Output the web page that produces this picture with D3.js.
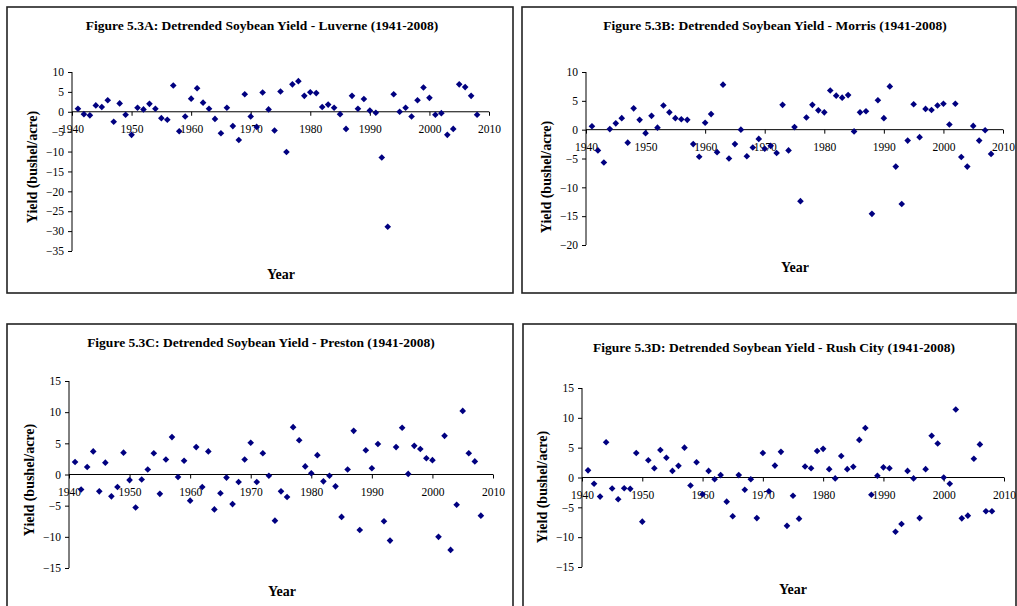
<!DOCTYPE html>
<html>
<head>
<meta charset="utf-8">
<script src="https://cdn.jsdelivr.net/npm/d3@7"></script>
<style>
  body { margin: 0; background: #fff; }
  svg { display: block; font-family: "Liberation Serif", "Times New Roman", serif; }
  .tick text { fill: #000; }
</style>
</head>
<body>
<svg width="1017" height="606"></svg>
<script>
var years = [1941,1942,1943,1944,1945,1946,1947,1948,1949,1950,
  1951,1952,1953,1954,1955,1956,1957,1958,1959,1960,
  1961,1962,1963,1964,1965,1966,1967,1968,1969,1970,
  1971,1972,1973,1974,1975,1976,1977,1978,1979,1980,
  1981,1982,1983,1984,1985,1986,1987,1988,1989,1990,
  1991,1992,1993,1994,1995,1996,1997,1998,1999,2000,
  2001,2002,2003,2004,2005,2006,2007,2008];

var luverne = [0.75,-0.6,-0.9,1.6,1.2,2.9,-2.5,2.1,-0.75,-5.8,
  1.0,0.6,2.0,0.75,-1.6,-2.0,6.6,-4.9,-1.2,3.3,
  5.9,2.3,0.75,-1.8,-5.4,1.0,-3.6,-7.1,4.4,-1.2,
  -3.8,4.85,0.6,-4.7,5.1,-10.1,6.9,7.7,4.0,4.9,
  4.7,1.2,1.8,1.0,-0.6,-4.3,4.0,0.75,3.2,0.3,
  -0.25,-11.5,-28.9,4.4,0.0,1.0,-1.2,2.9,6.1,3.5,
  -0.75,-0.35,-5.8,-4.3,6.9,6.2,4.0,-0.75];

var morris = [0.6,-3.6,-5.7,0.1,1.1,2.0,-2.25,3.7,1.7,-0.6,
  2.4,0.35,4.2,3.0,2.0,1.8,1.7,-2.5,-4.7,1.2,
  2.7,-3.9,7.8,-5.0,-2.5,0.0,-4.6,-3.1,-1.6,-3.3,
  -2.8,-4.05,4.3,-3.6,0.45,-12.4,2.1,4.3,3.35,3.0,
  6.8,5.9,5.55,6.0,-0.3,3.0,3.2,-14.6,5.1,2.0,
  7.5,-6.4,-12.9,-1.9,4.4,-1.3,3.6,3.4,4.2,4.5,
  0.9,4.5,-4.75,-6.4,0.65,-1.9,-0.1,-4.2];

var preston = [2.0,-2.4,1.2,3.7,-2.7,1.9,-3.5,-2.0,3.5,-0.9,
  -5.3,-0.8,0.8,3.4,-3.1,2.4,6.0,-0.4,2.2,-4.2,
  4.4,-2.0,3.7,-5.6,-3.0,-0.5,-4.75,-1.2,2.4,5.1,
  -1.2,3.4,-0.2,-7.4,-2.7,-3.6,7.6,5.5,1.3,0.2,
  3.1,-1.1,-0.2,-1.9,-6.8,0.8,7.0,-8.9,3.9,1.0,
  4.9,-7.5,-10.6,4.4,7.5,0.1,4.6,4.1,2.6,2.3,
  -10.0,6.2,-12.1,-4.85,10.2,3.4,2.1,-6.6];

var rushCity = [1.2,-1.05,-3.2,5.9,-1.85,-3.65,-1.8,-1.9,4.1,-7.4,
  2.9,1.55,4.6,3.3,1.1,1.95,5.0,-1.35,2.55,-2.8,
  1.1,-0.3,0.4,-4.05,-6.5,0.4,-2.05,-0.3,-6.8,4.1,
  -2.3,2.0,4.3,-8.1,-3.05,-6.9,1.85,1.55,4.45,4.8,
  1.4,-0.15,3.6,1.4,1.8,6.3,8.3,-2.9,0.3,1.7,
  1.55,-9.1,-7.8,1.1,-0.15,-6.8,1.4,7.0,5.7,0.0,
  -1.05,11.4,-6.85,-6.4,3.15,5.55,-5.65,-5.65];

var titles = [
  "Figure 5.3A: Detrended Soybean Yield - Luverne (1941-2008)",
  "Figure 5.3B: Detrended Soybean Yield - Morris (1941-2008)",
  "Figure 5.3C: Detrended Soybean Yield - Preston (1941-2008)",
  "Figure 5.3D: Detrended Soybean Yield - Rush City (1941-2008)"
];
var series = [luverne, morris, preston, rushCity];
var yDomains = [[-35, 10], [-20, 10], [-15, 15], [-15, 15]];
var yTicks = [
  [10, 5, 0, -5, -10, -15, -20, -25, -30, -35],
  [10, 5, 0, -5, -10, -15, -20],
  [15, 10, 5, 0, -5, -10, -15],
  [15, 10, 5, 0, -5, -10, -15]
];
var xTicks = [1940, 1950, 1960, 1970, 1980, 1990, 2000, 2010];

// panel layout: frame box, plot box, text anchors
var layout = [
  {frame: [7, 7, 513, 293], px: [72, 489], py: [251, 72], title: [262, 30], year: [281, 279], ylab: [32, 167]},
  {frame: [522, 7, 1016, 293], px: [586, 1003], py: [245, 72], title: [775, 30], year: [795, 272], ylab: [546, 177]},
  {frame: [7, 324, 513, 620], px: [69, 493], py: [568, 381], title: [261, 347], year: [282, 596], ylab: [29, 480]},
  {frame: [523, 324, 1016, 620], px: [582, 1004], py: [567, 388], title: [774, 352], year: [793, 594], ylab: [542, 487]}
];

var svg = d3.select("svg");
var diamond = d3.symbol().type(d3.symbolDiamond2).size(28);

series.forEach(function(vals, i) {
  var L = layout[i];
  var g = svg.append("g");

  g.append("rect")
      .attr("x", L.frame[0]).attr("y", L.frame[1])
      .attr("width", L.frame[2] - L.frame[0])
      .attr("height", L.frame[3] - L.frame[1])
      .attr("fill", "#fff")
      .attr("stroke", "#222")
      .attr("stroke-width", 1.6);

  var x = d3.scaleLinear().domain([1940, 2010]).range(L.px);
  var y = d3.scaleLinear().domain(yDomains[i]).range(L.py);

  // y axis
  g.append("g")
      .attr("transform", "translate(" + L.px[0] + ",0)")
      .call(d3.axisLeft(y).tickValues(yTicks[i]).tickSize(4).tickPadding(4).tickFormat(d3.format("d")))
      .attr("font-family", null)
      .attr("font-size", 11.5)
      .call(function(a) { a.select(".domain").attr("d", "M0," + L.py[0] + "V" + L.py[1]); });

  // x axis sits at zero
  g.append("g")
      .attr("transform", "translate(0," + y(0) + ")")
      .call(d3.axisBottom(x).tickValues(xTicks).tickSize(4).tickPadding(9).tickFormat(d3.format("d")))
      .attr("font-family", null)
      .attr("font-size", 11.5)
      .call(function(a) { a.select(".domain").attr("d", "M" + L.px[0] + ",0H" + L.px[1]); });

  g.selectAll("path.pt")
      .data(vals)
      .enter().append("path")
      .attr("class", "pt")
      .attr("d", diamond)
      .attr("transform", function(d, j) { return "translate(" + x(years[j]) + "," + y(d) + ")"; })
      .attr("fill", "#000080");

  g.append("text")
      .attr("x", L.title[0]).attr("y", L.title[1])
      .attr("text-anchor", "middle")
      .style("font-size", "13.5px").style("font-weight", "bold")
      .text(titles[i]);

  g.append("text")
      .attr("x", L.year[0]).attr("y", L.year[1])
      .attr("text-anchor", "middle")
      .style("font-size", "14px").style("font-weight", "bold")
      .text("Year");

  g.append("text")
      .attr("transform", "translate(" + L.ylab[0] + "," + L.ylab[1] + ") rotate(-90)")
      .attr("text-anchor", "middle")
      .attr("dy", "0.35em")
      .style("font-size", "14px").style("font-weight", "bold")
      .text("Yield (bushel/acre)");
});
</script>
</body>
</html>
